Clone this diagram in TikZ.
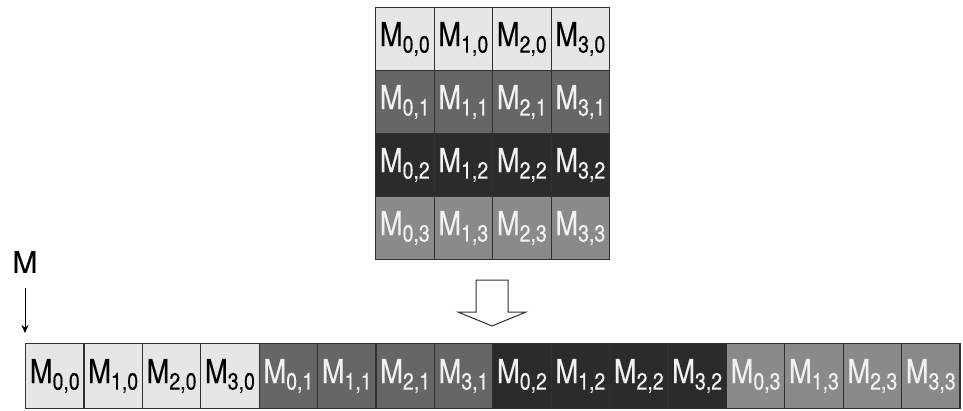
\documentclass[tikz,border=0pt]{standalone}
\usepackage{fontspec}
\setmainfont{TeX Gyre Heros}
\newfontfamily\cellfont[FakeBold=0.35]{TeX Gyre Heros}
\usetikzlibrary{arrows.meta}

\definecolor{rowA}{HTML}{E6E6E6}
\definecolor{rowB}{HTML}{666666}
\definecolor{rowC}{HTML}{2B2B2B}
\definecolor{rowD}{HTML}{8A8A8A}
\definecolor{edge}{HTML}{303030}
\definecolor{lighttext}{HTML}{F2F2F2}

% element label M_{i,j}
\newcommand{\elem}[2]{\scalebox{0.83}[1]{\cellfont\fontsize{33}{34}\selectfont M\raisebox{-6.5pt}{\fontsize{23.5}{24}\selectfont #1,#2}}}

\begin{document}
\begin{tikzpicture}[x=1pt,y=-1pt,
  cell/.style={draw=edge, line width=1.1pt, minimum width=58.5pt, minimum height=63pt,
               inner sep=0pt, anchor=north west},
  lincell/.style={draw=edge, line width=1.1pt, minimum width=58.4pt, minimum height=65pt,
               inner sep=0pt, anchor=north west},
  r0/.style={fill=rowA, text=black},
  r1/.style={fill=rowB, text=lighttext},
  r2/.style={fill=rowC, text=lighttext},
  r3/.style={fill=rowD, text=lighttext},
  blockarrow/.style={draw=edge, line width=1pt, fill=white, line join=miter}
]
\useasboundingbox (0,0) rectangle (963,410);

% 4x4 matrix
\foreach \j in {0,...,3}{
  \foreach \i in {0,...,3}{
    \node[cell, r\j] (t-\i-\j) at ({375+58.5*\i},{7+63*\j}) {\elem{\i}{\j}};
  }
}

% row-major linear layout
\foreach \j in {0,...,3}{
  \foreach \i in {0,...,3}{
    \pgfmathtruncatemacro{\k}{4*\j+\i}
    \node[lincell, r\j] (b-\k) at ({25+58.4*\k},343) {\elem{\i}{\j}};
  }
}

% hollow down arrow between the two layouts
\coordinate (a1) at (476,280);
\coordinate (a2) at (508,280);
\coordinate (a3) at (508,312);
\coordinate (a4) at (526,312);
\coordinate (a5) at (492,326);
\coordinate (a6) at (458,312);
\coordinate (a7) at (476,312);
\draw[blockarrow] (a1) -- (a2) -- (a3) -- (a4) -- (a5) -- (a6) -- (a7) -- cycle;

% base pointer
\node[font=\cellfont\fontsize{30}{31}\selectfont, inner sep=1pt] (mlabel) at (25,262) {M};
\draw[-{Stealth[length=8pt,width=7pt]}, line width=0.9pt, shorten <=14pt, shorten >=10pt]
  (mlabel.south) -- (mlabel.south |- b-0.north);
\end{tikzpicture}
\end{document}
